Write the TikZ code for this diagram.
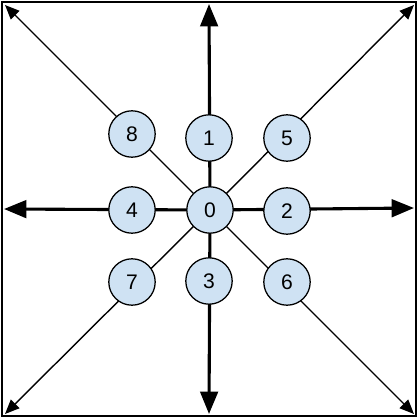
\documentclass[tikz,border=0pt]{standalone}
\usepackage{fontspec}
\setmainfont{Liberation Sans}
\usetikzlibrary{positioning, arrows.meta, backgrounds}
\definecolor{cellblue}{RGB}{207, 226, 243}
\tikzset{
  cell/.style={circle, draw=black, fill=cellblue, line width=0.9pt,
               minimum size=1.16cm, inner sep=0pt,
               font=\fontsize{15}{17}\selectfont},
  axis/.style={-{Triangle[length=5.6mm, width=4.4mm]}, line width=2.2pt},
  diag/.style={-{Triangle[length=3.6mm, width=3mm]}, line width=1pt},
  frame/.style={draw=black, line width=1.3pt},
}

\begin{document}
\begin{tikzpicture}[x=0.025cm, y=-0.025cm]
  \useasboundingbox (0,0) rectangle (420,420);

  % outer frame
  \draw[frame] (2,2) rectangle (416,416);

  % arrow targets on the frame
  \coordinate (top) at (209,4);
  \coordinate (bottom) at (209,414);
  \coordinate (left) at (4,209);
  \coordinate (right) at (414,208);
  \coordinate (nw) at (5,5);
  \coordinate (ne) at (414,5);
  \coordinate (sw) at (5,414);
  \coordinate (se) at (414,414);

  % cells
  \node[cell] (n0) at (210,210) {0};
  \foreach \i/\x/\y in {1/209/138, 2/287/211, 3/209/281, 4/132/210,
                        5/287/138, 6/287/282, 7/132/282, 8/132/134} {
    \node[cell] (n\i) at (\x,\y) {\i};
  }

  % connectors behind the cells
  \begin{scope}[on background layer]
    \draw[axis] (n0.center) -- (top);
    \draw[axis] (n0.center) -- (bottom);
    \draw[axis] (n0.center) -- (left);
    \draw[axis] (n0.center) -- (right);
    \draw[diag] (n0.center) -- (nw);
    \draw[diag] (n0.center) -- (ne);
    \draw[diag] (n0.center) -- (sw);
    \draw[diag] (n0.center) -- (se);
  \end{scope}
\end{tikzpicture}
\end{document}
